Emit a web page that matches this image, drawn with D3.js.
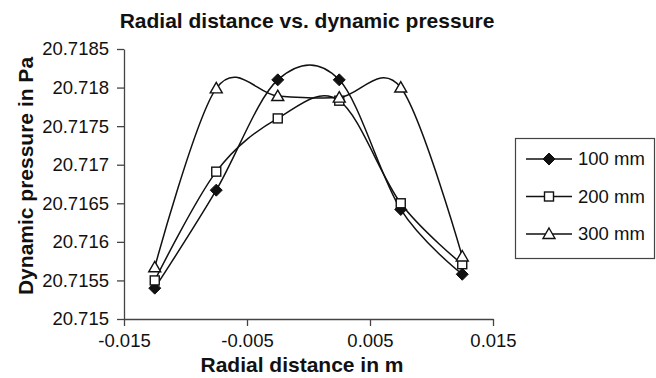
<!DOCTYPE html>
<html>
<head>
<meta charset="utf-8">
<script src="https://cdn.jsdelivr.net/npm/d3@7"></script>
<style>
  html, body { margin: 0; padding: 0; background: #fff; }
  svg { display: block; font-family: "Liberation Sans", Arial, sans-serif; }
</style>
</head>
<body>
<svg id="chart" width="656" height="378"></svg>
<script>
// Radial positions (m) where pressure was sampled
const radialPositions = [-0.0125, -0.0075, -0.0025, 0.0025, 0.0075, 0.0125];

// Dynamic pressure (Pa) at each radial position, one array per axial station
const pressure100 = [20.71540, 20.71667, 20.71810, 20.71810, 20.71642, 20.71558];
const pressure200 = [20.71550, 20.71691, 20.71760, 20.71783, 20.71650, 20.71571];
const pressure300 = [20.71567, 20.71799, 20.71789, 20.71787, 20.71800, 20.71581];

const seriesNames = ["100 mm", "200 mm", "300 mm"];
const seriesMarkers = ["diamond", "square", "triangle"];

// Axis tick values and their printed labels
const xTicks = [-0.015, -0.005, 0.005, 0.015];
const xTickLabels = ["-0.015", "-0.005", "0.005", "0.015"];
const yTicks = [20.715, 20.7155, 20.716, 20.7165, 20.717, 20.7175, 20.718, 20.7185];
const yTickLabels = ["20.715", "20.7155", "20.716", "20.7165", "20.717", "20.7175", "20.718", "20.7185"];

const titleText = "Radial distance vs. dynamic pressure";
const xTitle = "Radial distance in m";
const yTitle = "Dynamic pressure in Pa";

const svg = d3.select("#chart");
const ink = "#111";
const axisInk = "#444";

const plot = { left: 124, right: 493, top: 49, bottom: 319 };

const x = d3.scaleLinear().domain([-0.015, 0.015]).range([plot.left, plot.right]);
const y = d3.scaleLinear().domain([20.715, 20.7185]).range([plot.bottom, plot.top]);

// Axes
const xAxis = d3.axisBottom(x)
  .tickValues(xTicks)
  .tickFormat((d, i) => xTickLabels[i])
  .tickSize(7).tickSizeOuter(0).tickPadding(8);
const yAxis = d3.axisLeft(y)
  .tickValues(yTicks)
  .tickFormat((d, i) => yTickLabels[i])
  .tickSize(7).tickSizeOuter(0).tickPadding(8);

const gx = svg.append("g").attr("transform", `translate(0,${plot.bottom})`).call(xAxis);
const gy = svg.append("g").attr("transform", `translate(${plot.left},0)`).call(yAxis);

[gx, gy].forEach(g => {
  g.select(".domain").attr("stroke", axisInk).attr("stroke-width", 1.3);
  g.selectAll(".tick line").attr("stroke", axisInk).attr("stroke-width", 1.3);
  g.selectAll(".tick text")
    .attr("fill", "#111")
    .style("font-size", "18.5px")
    .style("font-family", "'Liberation Sans', Arial, sans-serif");
});

// Series lines (Catmull-Rom style smoothing) and markers
const line = d3.line()
  .x((d, i) => x(radialPositions[i]))
  .y(d => y(d))
  .curve(d3.curveCardinal.tension(0));

const allSeries = [pressure100, pressure200, pressure300];

function drawMarker(g, kind, cx, cy) {
  if (kind === "diamond") {
    g.append("path")
      .attr("d", `M${cx},${cy - 6}L${cx + 6},${cy}L${cx},${cy + 6}L${cx - 6},${cy}Z`)
      .attr("fill", ink).attr("stroke", ink).attr("stroke-width", 1);
  } else if (kind === "square") {
    g.append("rect")
      .attr("x", cx - 4.5).attr("y", cy - 4.5).attr("width", 9).attr("height", 9)
      .attr("fill", "#fff").attr("stroke", ink).attr("stroke-width", 1.4);
  } else {
    g.append("path")
      .attr("d", `M${cx},${cy - 6}L${cx + 6},${cy + 4.5}L${cx - 6},${cy + 4.5}Z`)
      .attr("fill", "#fff").attr("stroke", ink).attr("stroke-width", 1.4);
  }
}

const linesG = svg.append("g");
allSeries.forEach(vals => {
  linesG.append("path")
    .attr("d", line(vals))
    .attr("fill", "none")
    .attr("stroke", ink)
    .attr("stroke-width", 1.5);
});

const markersG = svg.append("g");
allSeries.forEach((vals, s) => {
  vals.forEach((v, i) => drawMarker(markersG, seriesMarkers[s], x(radialPositions[i]), y(v)));
});

// Titles
svg.append("text")
  .attr("x", 307).attr("y", 28)
  .attr("text-anchor", "middle")
  .style("font-size", "21px").style("font-weight", "bold")
  .attr("fill", "#111")
  .text(titleText);

svg.append("text")
  .attr("x", 302).attr("y", 372)
  .attr("text-anchor", "middle")
  .style("font-size", "21px").style("font-weight", "bold")
  .attr("fill", "#111")
  .text(xTitle);

svg.append("text")
  .attr("transform", "translate(33,176) rotate(-90)")
  .attr("text-anchor", "middle")
  .style("font-size", "21px").style("font-weight", "bold")
  .attr("fill", "#111")
  .text(yTitle);

// Legend
const legend = svg.append("g");
legend.append("rect")
  .attr("x", 515.5).attr("y", 138.5).attr("width", 139).attr("height", 120)
  .attr("fill", "#fff").attr("stroke", axisInk).attr("stroke-width", 1.2);

const legendRows = [159, 196.5, 234];
seriesNames.forEach((name, s) => {
  const ry = legendRows[s];
  legend.append("line")
    .attr("x1", 526).attr("x2", 572).attr("y1", ry).attr("y2", ry)
    .attr("stroke", ink).attr("stroke-width", 1.5);
  drawMarker(legend, seriesMarkers[s], 549, ry);
  legend.append("text")
    .attr("x", 578).attr("y", ry).attr("dy", "0.35em")
    .style("font-size", "18.5px")
    .attr("fill", "#111")
    .text(name);
});
</script>
</body>
</html>
